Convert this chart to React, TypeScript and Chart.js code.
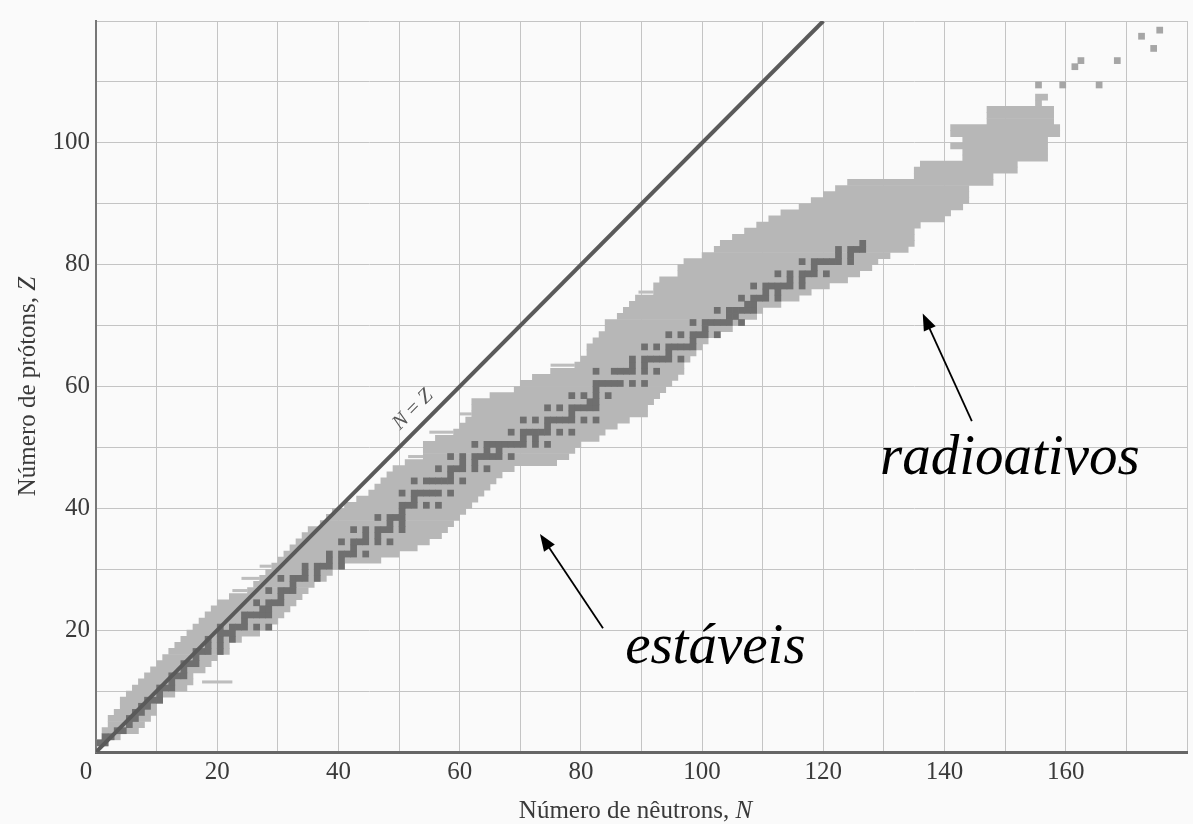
import React, { useEffect, useRef } from "react";
import { Chart, registerables } from "chart.js";

Chart.register(...registerables);

// ---------- tick labels ----------
const xTickLabels = [20, 40, 60, 80, 100, 120, 140, 160];
const originLabel = "0";
const yTickLabels = [20, 40, 60, 80, 100];

// ---------- known nuclides (light band): per Z, first and last N ----------
const bandZ = [
  1, 2, 3, 4, 5, 6, 7, 8, 9, 10,
  11, 12, 13, 14, 15, 16, 17, 18, 19, 20,
  21, 22, 23, 24, 25, 26, 27, 28, 29, 30,
  31, 32, 33, 34, 35, 36, 37, 38, 39, 40,
  41, 42, 43, 44, 45, 46, 47, 48, 49, 50,
  51, 52, 53, 54, 55, 56, 57, 58, 59, 60,
  61, 62, 63, 64, 65, 66, 67, 68, 69, 70,
  71, 72, 73, 74, 75, 76, 77, 78, 79, 80,
  81, 82, 83, 84, 85, 86, 87, 88, 89, 90,
  91, 92, 93, 94, 95, 96, 97, 98, 99, 100,
  101, 102, 103, 104, 105, 106, 107,
];
const bandNMin = [
  0, 1, 1, 2, 2, 3, 4, 4, 5, 6,
  7, 8, 9, 10, 11, 12, 13, 14, 15, 16,
  17, 18, 19, 20, 22, 25, 26, 27, 28, 29,
  30, 31, 32, 33, 34, 35, 37, 38, 39, 41,
  43, 45, 46, 47, 48, 49, 51, 54, 54, 54,
  56, 59, 60, 61, 62, 62, 62, 65, 69, 70,
  72, 75, 79, 80, 81, 81, 82, 83, 84, 84,
  86, 87, 88, 89, 92, 92, 93, 96, 96, 97,
  100, 102, 103, 105, 107, 109, 111, 113, 116, 118,
  120, 122, 124, 135, 135, 136, 143, 143, 141, 143,
  141, 141, 147, 147, 147, 155, 155,
];
const bandNMax = [
  1, 3, 6, 7, 8, 9, 9, 10, 12, 14,
  15, 15, 17, 18, 19, 21, 21, 23, 26, 28,
  29, 30, 31, 32, 33, 34, 35, 37, 38, 40,
  46, 49, 52, 54, 56, 57, 58, 59, 60, 61,
  62, 63, 64, 65, 66, 68, 75, 77, 78, 79,
  82, 83, 85, 87, 90, 90, 91, 92, 93, 94,
  95, 96, 96, 97, 98, 99, 100, 102, 104, 106,
  108, 109, 112, 115, 117, 120, 123, 125, 127, 128,
  130, 133, 134, 134, 134, 135, 139, 140, 142, 143,
  143, 143, 147, 147, 151, 151, 156, 156, 156, 156,
  158, 158, 157, 157, 157, 155, 156,
];

// thin stray strips of the light band (Z, N from, N to)
const stripZ = [11, 26, 28, 30, 48, 52, 55, 63, 75];
const stripNFrom = [17.5, 22.5, 24, 27, 51.5, 55, 60, 75, 89.5];
const stripNTo = [22.5, 25, 27, 29, 54, 59, 62, 79, 92];

// isolated heavy nuclides (top right)
const isoN = [155, 159, 165, 161, 162, 168, 172, 175, 174];
const isoZ = [109, 109, 109, 112, 113, 113, 117, 118, 115];

// ---------- stable nuclides (dark cells): Z and its stable N values ----------
const stableZ = [
  1, 2, 3, 4, 5, 6, 7, 8, 9, 10,
  11, 12, 13, 14, 15, 16, 17, 18, 19, 20,
  21, 22, 23, 24, 25, 26, 27, 28, 29, 30,
  31, 32, 33, 34, 35, 36, 37, 38, 39, 40,
  41, 42, 44, 45, 46, 47, 48, 49, 50,
  51, 52, 53, 54, 55, 56, 57, 58, 59, 60,
  62, 63, 64, 65, 66, 67, 68, 69, 70,
  71, 72, 73, 74, 75, 76, 77, 78, 79, 80,
  81, 82, 83,
];
const stableN: number[][] = [
  [0, 1], [1, 2], [3, 4], [5], [5, 6], [6, 7], [7, 8], [8, 9, 10], [10], [10, 11, 12],
  [12], [12, 13, 14], [14], [14, 15, 16], [16], [16, 17, 18, 20], [18, 20], [18, 20, 22], [20, 21, 22], [20, 22, 23, 24, 26, 28],
  [24], [24, 25, 26, 27, 28], [27, 28], [26, 28, 29, 30], [30], [28, 30, 31, 32], [32], [30, 32, 33, 34, 36], [34, 36], [34, 36, 37, 38, 40],
  [38, 40], [38, 40, 41, 42, 44], [42], [40, 42, 43, 44, 46, 48], [44, 46], [42, 44, 46, 47, 48, 50], [48, 50], [46, 48, 49, 50], [50], [50, 51, 52, 54, 56],
  [52], [50, 52, 53, 54, 55, 56, 58], [52, 54, 55, 56, 57, 58, 60], [58], [56, 58, 59, 60, 62, 64], [60, 62], [58, 60, 62, 63, 64, 65, 66, 68], [64, 66], [62, 64, 65, 66, 67, 68, 69, 70, 72, 74],
  [70, 72], [68, 70, 71, 72, 73, 74, 76, 78], [74], [70, 72, 74, 75, 76, 77, 78, 80, 82], [78], [74, 76, 78, 79, 80, 81, 82], [81, 82], [78, 80, 82, 84], [82], [82, 83, 84, 85, 86, 88, 90],
  [82, 85, 86, 87, 88, 90, 92], [88, 90], [88, 90, 91, 92, 93, 94, 96], [94], [90, 92, 94, 95, 96, 97, 98], [98], [94, 96, 98, 99, 100, 102], [100], [98, 100, 101, 102, 103, 104, 106],
  [104, 105], [102, 104, 105, 106, 107, 108], [107, 108], [106, 108, 109, 110, 112], [110, 112], [108, 110, 111, 112, 113, 114, 116], [114, 116], [112, 114, 116, 117, 118, 120], [118], [116, 118, 119, 120, 121, 122, 124],
  [122, 124], [122, 124, 125, 126], [126],
];

// N = Z reference line end points
const lineN = [0, 120];
const lineZ = [0, 120];

// annotation anchors in data units (N, Z)
const ANN = {
  nzLabel: { n: 52.3, z: 56.2 },
  radio: { text: "radioativos", n: 129.35, z: 45.7, tail: [144.5, 54.3], tip: [136.4, 72.0] },
  estav: { text: "estáveis", n: 87.3, z: 14.6, tail: [83.65, 20.3], tip: [73.25, 35.8] },
};

const FAM = '"Liberation Serif", "Times New Roman", serif';
const TICK_SIZE = 25;

function drawParts(
  ctx: CanvasRenderingContext2D,
  parts: [string, boolean][],
  size: number,
  cx: number,
  cy: number
) {
  const fonts = parts.map(([, it]) => `${it ? "italic " : ""}${size}px ${FAM}`);
  let total = 0;
  const widths = parts.map(([t], i) => {
    ctx.font = fonts[i];
    const w = ctx.measureText(t).width;
    total += w;
    return w;
  });
  let x = cx - total / 2;
  ctx.textAlign = "left";
  parts.forEach(([t], i) => {
    ctx.font = fonts[i];
    ctx.fillText(t, x, cy);
    x += widths[i];
  });
}

function drawArrow(ctx: CanvasRenderingContext2D, x1: number, y1: number, x2: number, y2: number) {
  const ang = Math.atan2(y2 - y1, x2 - x1);
  const head = 17;
  const half = 6.5;
  ctx.strokeStyle = "#000";
  ctx.fillStyle = "#000";
  ctx.lineWidth = 1.8;
  ctx.beginPath();
  ctx.moveTo(x1, y1);
  ctx.lineTo(x2 - Math.cos(ang) * head * 0.8, y2 - Math.sin(ang) * head * 0.8);
  ctx.stroke();
  ctx.beginPath();
  ctx.moveTo(x2, y2);
  ctx.lineTo(
    x2 - Math.cos(ang) * head - Math.sin(ang) * half,
    y2 - Math.sin(ang) * head + Math.cos(ang) * half
  );
  ctx.lineTo(
    x2 - Math.cos(ang) * head + Math.sin(ang) * half,
    y2 - Math.sin(ang) * head - Math.cos(ang) * half
  );
  ctx.closePath();
  ctx.fill();
}

const overlayPlugin = {
  id: "segreOverlay",
  afterDatasetsDraw(chart: any) {
    const { ctx, scales } = chart;
    const x = scales.x;
    const y = scales.y;
    const ang = Math.atan2(
      y.getPixelForValue(100) - y.getPixelForValue(0),
      x.getPixelForValue(100) - x.getPixelForValue(0)
    );
    ctx.save();
    ctx.translate(x.getPixelForValue(ANN.nzLabel.n), y.getPixelForValue(ANN.nzLabel.z));
    ctx.rotate(ang);
    ctx.fillStyle = "#555";
    ctx.textBaseline = "middle";
    drawParts(ctx, [["N", true], [" = ", false], ["Z", true]], 21, 0, 0);
    ctx.restore();
  },
  afterDraw(chart: any) {
    const { ctx, scales, chartArea } = chart;
    const x = scales.x;
    const y = scales.y;
    ctx.save();
    ctx.fillStyle = "#3a3a3a";
    // origin label, set at the corner
    ctx.font = `${TICK_SIZE}px ${FAM}`;
    ctx.textAlign = "center";
    ctx.textBaseline = "middle";
    ctx.fillText(originLabel, x.getPixelForValue(0) - 10, y.getPixelForValue(0) + 20);

    ctx.textBaseline = "alphabetic";
    drawParts(
      ctx,
      [["Número de nêutrons, ", false], ["N", true]],
      25,
      (chartArea.left + chartArea.right) / 2 - 6,
      818
    );
    ctx.save();
    ctx.translate(35, (chartArea.top + chartArea.bottom) / 2);
    ctx.rotate(-Math.PI / 2);
    drawParts(ctx, [["Número de prótons, ", false], ["Z", true]], 25, 0, 0);
    ctx.restore();

    for (const a of [ANN.radio, ANN.estav]) {
      ctx.fillStyle = "#000";
      ctx.font = `italic 57px ${FAM}`;
      ctx.textAlign = "left";
      ctx.fillText(a.text, x.getPixelForValue(a.n), y.getPixelForValue(a.z));
      drawArrow(
        ctx,
        x.getPixelForValue(a.tail[0]),
        y.getPixelForValue(a.tail[1]),
        x.getPixelForValue(a.tip[0]),
        y.getPixelForValue(a.tip[1])
      );
    }
    ctx.restore();
  },
};

export default function App() {
  const ref = useRef<HTMLCanvasElement>(null);

  useEffect(() => {
    document.body.style.margin = "0";
    document.body.style.background = "#fafafa";
    const canvas = ref.current;
    if (!canvas) return;

    const bandData = bandZ.map((z, i) => ({ x: [bandNMin[i], bandNMax[i] + 1], y: z + 0.5 }));
    const stripData = stripZ.map((z, i) => ({ x: [stripNFrom[i], stripNTo[i]], y: z + 0.5 }));
    const isoData = isoN.map((n, i) => ({ x: [n, n + 1], y: isoZ[i] + 0.5 }));
    const stableData = stableZ.flatMap((z, i) =>
      stableN[i].map((n) => ({ x: [n, n + 1], y: z + 0.5 }))
    );
    const lineData = lineN.map((n, i) => ({ x: n, y: lineZ[i] }));

    const barCommon = {
      type: "bar" as const,
      indexAxis: "y" as const,
      grouped: false,
      barPercentage: 1,
      categoryPercentage: 1,
      borderSkipped: false,
    };

    const chart = new Chart(canvas, {
      type: "bar",
      data: {
        datasets: [
          {
            type: "line",
            data: lineData,
            borderColor: "#5a5a5a",
            borderWidth: 4,
            pointRadius: 0,
            order: 0,
            indexAxis: "x",
          } as any,
          {
            ...barCommon,
            data: stableData,
            backgroundColor: "#6f6f6f",
            borderWidth: 0,
            order: 1,
          } as any,
          {
            ...barCommon,
            data: isoData,
            backgroundColor: "#a6a6a6",
            borderWidth: 0,
            order: 2,
          } as any,
          {
            ...barCommon,
            data: bandData,
            backgroundColor: "#b7b7b7",
            borderWidth: 0,
            order: 3,
          } as any,
          {
            ...barCommon,
            data: stripData,
            backgroundColor: "#bdbdbd",
            borderWidth: 0,
            barPercentage: 0.5,
            order: 4,
          } as any,
        ],
      },
      options: {
        responsive: false,
        animation: false,
        devicePixelRatio: 1,
        layout: { padding: { left: 0, right: 6, top: 14, bottom: 0 } },
        plugins: {
          legend: { display: false },
          tooltip: { enabled: false },
        },
        scales: {
          x: {
            type: "linear",
            position: "bottom",
            offset: false,
            min: 0,
            max: 180,
            afterFit: (s: any) => {
              s.height = 72;
            },
            ticks: {
              stepSize: 10,
              autoSkip: false,
              maxRotation: 0,
              padding: 5,
              color: "#3a3a3a",
              font: { family: FAM, size: TICK_SIZE },
              callback: (v: any) => (xTickLabels.includes(Math.round(Number(v))) ? String(Math.round(Number(v))) : ""),
            },
            grid: { offset: false, color: "#c4c4c4", lineWidth: 1, drawTicks: false },
            border: { color: "#666", width: 3 },
          },
          y: {
            type: "linear",
            position: "left",
            offset: false,
            min: 0,
            max: 120,
            afterFit: (s: any) => {
              s.width = 96;
            },
            ticks: {
              stepSize: 10,
              autoSkip: false,
              padding: 6,
              color: "#3a3a3a",
              font: { family: FAM, size: TICK_SIZE },
              callback: (v: any) => (yTickLabels.includes(Math.round(Number(v))) ? String(Math.round(Number(v))) : ""),
            },
            grid: { offset: false, color: "#c4c4c4", lineWidth: 1, drawTicks: false },
            border: { color: "#777", width: 2 },
          },
        },
      } as any,
      plugins: [overlayPlugin],
    });

    return () => chart.destroy();
  }, []);

  return (
    <div style={{ width: 1193, height: 824 }}>
      <canvas ref={ref} width={1193} height={824} style={{ display: "block" }} />
    </div>
  );
}
